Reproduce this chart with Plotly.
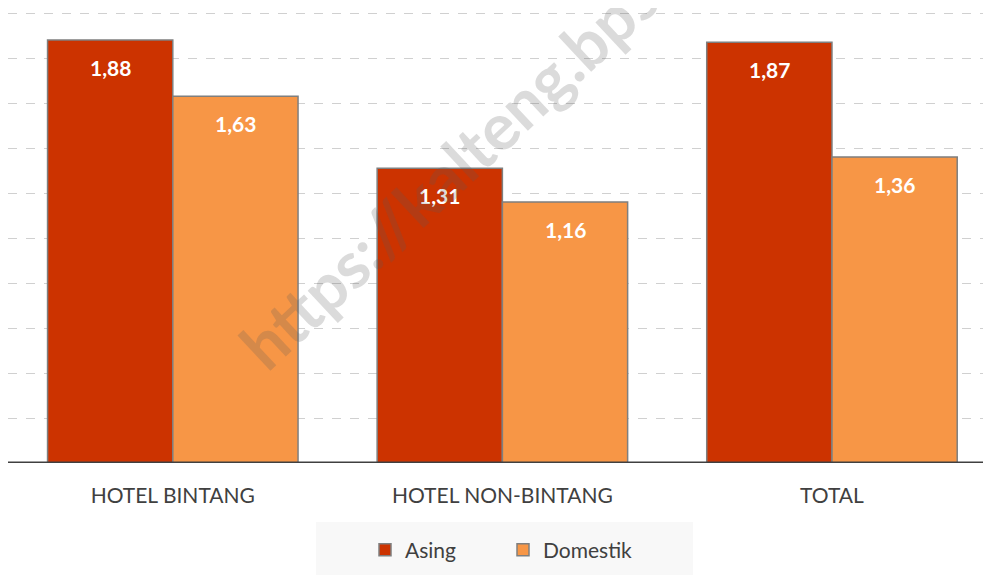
import plotly.graph_objects as go

categories = ["HOTEL BINTANG", "HOTEL NON-BINTANG", "TOTAL"]
asing = [1.88, 1.31, 1.87]
domestik = [1.63, 1.16, 1.36]
series_names = ["Asing", "Domestik"]
colors = ["#CC3300", "#F79646"]

# page body adds an 8px margin, so the figure is 8px smaller than the window
W, H = 983, 567
ml, mr, mt, mb = 0, 0, 0, 112
pw = W - ml - mr
ph = H - mt - mb
FONT = "Lato"

xs = list(range(len(categories)))
bar_w = 0.38

fig = go.Figure()
for k, (name, vals) in enumerate(zip(series_names, [asing, domestik])):
    off = -bar_w if k == 0 else 0
    fig.add_trace(go.Bar(
        x=xs, y=vals, name=name, width=bar_w, offset=off,
        marker=dict(color=colors[k], line=dict(color="#7F7F7F", width=1.5)),
    ))
    for i, v in enumerate(vals):
        fig.add_annotation(
            x=xs[i] + off + bar_w / 2, y=v, yshift=-27,
            text="<b>" + f"{v:.2f}".replace(".", ",") + "</b>",
            showarrow=False, font=dict(color="white", size=21, family=FONT),
        )

xr = [-0.5, 2.4825]
yr = [0, 2.0222]

fig.update_layout(
    width=W, height=H,
    margin=dict(l=ml, r=mr, t=mt, b=mb, autoexpand=False),
    plot_bgcolor="white", paper_bgcolor="white",
    barmode="overlay",
    font=dict(family=FONT, color="#404040"),
    xaxis=dict(range=xr, tickvals=xs, ticktext=categories, showgrid=False,
               zeroline=False, showline=False, ticks="", automargin=False,
               ticklabelstandoff=18,
               tickfont=dict(size=21, color="#404040")),
    yaxis=dict(range=yr, dtick=0.2, showgrid=True, gridcolor="#D0D0D0",
               griddash="dash", gridwidth=1.3, showticklabels=False,
               automargin=False, zeroline=False, showline=False),
    showlegend=True,
    legend=dict(orientation="h", xref="container", yref="container",
                x=357 / W, xanchor="left",
                y=(H - 542) / H, yanchor="middle",
                bgcolor="rgba(0,0,0,0)", font=dict(size=21, color="#404040"),
                entrywidth=93, itemwidth=30),
)

# baseline
fig.add_shape(type="line", xref="paper", yref="y", x0=0, x1=1, y0=0, y1=0,
              line=dict(color="#404040", width=3))
# legend background
fig.add_shape(type="rect", xref="paper", yref="paper", layer="below",
              x0=308 / pw, x1=685 / pw,
              y0=(ph - 514) / ph, y1=(ph - 580) / ph,
              fillcolor="#F8F8F8", line=dict(width=0))

# watermark
fig.add_annotation(
    xref="paper", yref="paper", x=497 / pw, y=(ph - 110) / ph,
    xanchor="center", yanchor="middle",
    text="<b>https://kalteng.bps.go.id</b>", textangle=-43, showarrow=False,
    font=dict(size=65, color="rgba(90,90,90,0.22)", family=FONT),
)

fig.write_html("out.html")
